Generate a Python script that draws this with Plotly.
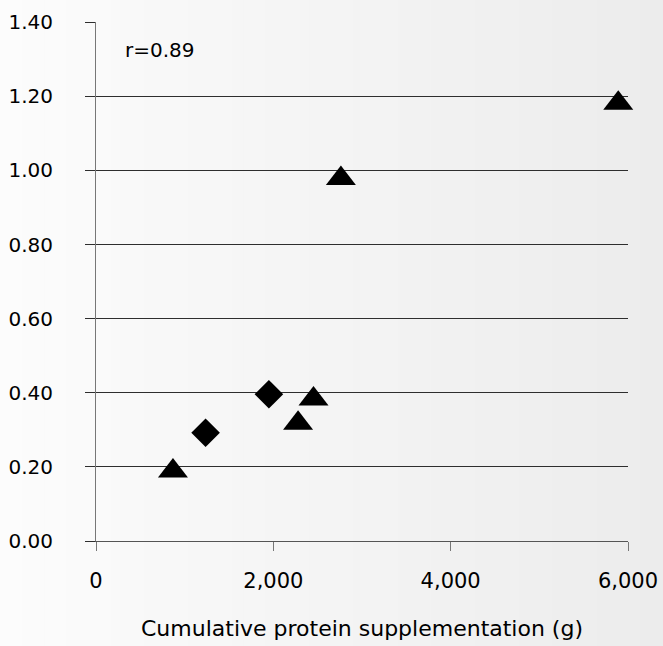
import plotly.graph_objects as go

# Data
tri_x = [868, 2279, 2453, 2762, 5890]
tri_y = [0.189, 0.318, 0.383, 0.978, 1.181]
dia_x = [1236, 1950]
dia_y = [0.292, 0.396]

x_ticks = [0, 2000, 4000, 6000]
x_tick_labels = ["0", "2,000", "4,000", "6,000"]
y_ticks = [0.0, 0.2, 0.4, 0.6, 0.8, 1.0, 1.2, 1.4]
y_tick_labels = ["0.00", "0.20", "0.40", "0.60", "0.80", "1.00", "1.20", "1.40"]

FONT = "DejaVu Sans"
W, H = 663, 646
ml, mr, mt, mb = 96, 35, 22, 105
pw, ph = W - ml - mr, H - mt - mb

fig = go.Figure()
fig.add_trace(go.Scatter(x=tri_x, y=tri_y, mode="markers",
                         marker=dict(symbol="triangle-up", size=26, color="black"),
                         showlegend=False, cliponaxis=False, hoverinfo="skip"))
fig.add_trace(go.Scatter(x=dia_x, y=dia_y, mode="markers",
                         marker=dict(symbol="diamond", size=22, color="black"),
                         showlegend=False, cliponaxis=False, hoverinfo="skip"))

# background gradient (white -> light grey, left to right)
n = 60
shapes = []
x0p, x1p = -ml / pw, (W - ml) / pw
y0p, y1p = -mb / ph, (H - mb) / ph
for i in range(n):
    t = i / (n - 1)
    v = round(252 - t * (252 - 236))
    c = f"rgb({v},{v},{v})"
    a = x0p + (x1p - x0p) * i / n
    b = x0p + (x1p - x0p) * (i + 1) / n + 0.002
    shapes.append(dict(type="rect", xref="paper", yref="paper", x0=a, x1=b,
                       y0=y0p, y1=y1p, fillcolor=c, line=dict(width=0), layer="below"))

fig.update_layout(
    width=W, height=H,
    margin=dict(l=ml, r=mr, t=mt, b=mb, pad=0, autoexpand=False),
    paper_bgcolor="#f4f4f4",
    plot_bgcolor="rgba(0,0,0,0)",
    font=dict(family=FONT, size=21, color="black"),
    shapes=shapes,
    xaxis=dict(range=[0, 6000], tickvals=x_ticks, ticktext=x_tick_labels,
               automargin=False,
               showgrid=False, zeroline=False, showline=True, linecolor="#555555",
               linewidth=1, ticks="outside", ticklen=9, tickcolor="#777777",
               tickfont=dict(size=21), ticklabelstandoff=12,
               title=dict(text="Cumulative protein supplementation (g)",
                          font=dict(size=22), standoff=28)),
    yaxis=dict(range=[0, 1.4005], tickvals=y_ticks, ticktext=y_tick_labels,
               automargin=False,
               showgrid=True, gridcolor="#2e2e2e", gridwidth=1, zeroline=False,
               showline=True, linecolor="#777777", linewidth=1,
               ticks="outside", ticklen=10, tickcolor="#2e2e2e",
               tickfont=dict(size=20), ticklabelstandoff=28),
    annotations=[dict(text="r=0.89", x=(123 - ml) / pw, y=1 - (50 - mt) / ph,
                      xref="paper", yref="paper", xanchor="left", yanchor="middle",
                      showarrow=False, font=dict(size=20))],
)

fig.write_html("out.html", config={"displayModeBar": False},
               post_script="document.body.style.margin='0';document.body.style.overflow='hidden';")
